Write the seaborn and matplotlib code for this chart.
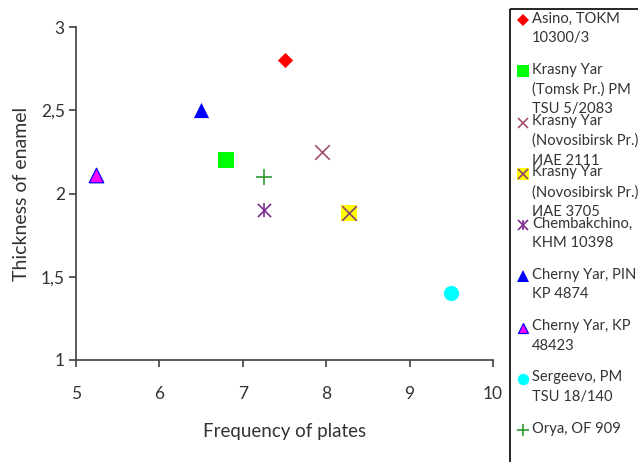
import matplotlib
matplotlib.use("Agg")
import matplotlib.pyplot as plt
import seaborn as sns
from matplotlib.patches import Rectangle

# ---- data ----
labels = [
    "Asino, TOKM\n10300/3",
    "Krasny Yar\n(Tomsk Pr.) PM\nTSU 5/2083",
    "Krasny Yar\n(Novosibirsk Pr.)\nИАЕ 2111",
    "Krasny Yar\n(Novosibirsk Pr.)\nИАЕ 3705",
    "Chembakchino,\nKHM 10398",
    "Cherny Yar, PIN\nKP 4874",
    "Cherny Yar, KP\n48423",
    "Sergeevo, PM\nTSU 18/140",
    "Orya, OF 909",
]
frequency = [7.5, 6.8, 7.95, 8.27, 7.25, 6.5, 5.24, 9.5, 7.25]
thickness = [2.8, 2.2, 2.25, 1.88, 1.9, 2.5, 2.11, 1.4, 2.1]
x_ticks = [5, 6, 7, 8, 9, 10]
y_ticks = [1, 1.5, 2, 2.5, 3]
y_tick_labels = ["1", "1,5", "2", "2,5", "3"]

# ---- styles: layers of (marker, size, face, edge, lw) ----
styles = [
    [("D", 60, "#FF0000", "#FF0000", 0)],
    [("s", 120, "#00FF00", "#00FF00", 0)],
    [("x", 110, "#A0506E", None, 1.2)],
    [("s", 120, "#FFFF00", "#FFFF00", 0), ("x", 110, "#8E4470", None, 1.2)],
    [("x", 90, "#7F2A8F", None, 1.2), ("|", 110, "#7F2A8F", None, 1.2)],
    [("^", 120, "#0000FF", "#0000FF", 0)],
    [("^", 110, "#FF00FF", "#0000FF", 0.9)],
    [("o", 120, "#00FFFF", "#00FFFF", 0)],
    [("+", 120, "#2E9A2E", None, 1.2)],
]

sns.set_style("white")
plt.rcParams["font.family"] = ["Lato", "DejaVu Sans"]
text_color = "#333333"
spine_color = "#404040"

fig = plt.figure(figsize=(6.38, 4.62), dpi=100)
ax = fig.add_axes([76 / 638, 1 - 360 / 462, (493 - 76) / 638, (360 - 27) / 462])

for fx, ty, layers in zip(frequency, thickness, styles):
    for m, s, fc, ec, lw in layers:
        kws = dict(marker=m, s=s, color=fc, linewidth=lw if lw else 0, ax=ax, legend=False, zorder=3)
        if ec is not None:
            kws["edgecolor"] = ec
        sns.scatterplot(x=[fx], y=[ty], **kws)

ax.set_xlim(5, 10)
ax.set_ylim(1, 3)
ax.set_xticks(x_ticks)
ax.set_xticklabels([str(t) for t in x_ticks])
ax.set_yticks(y_ticks)
ax.set_yticklabels(y_tick_labels)
for side in ["top", "right"]:
    ax.spines[side].set_visible(False)
for side in ["left", "bottom"]:
    ax.spines[side].set_color(spine_color)
    ax.spines[side].set_linewidth(1.2)
ax.tick_params(axis="both", direction="out", length=5, width=1.2, color=spine_color,
               labelsize=12.5, labelcolor=text_color)
ax.tick_params(axis="x", pad=14, bottom=True)
ax.tick_params(axis="y", pad=3, left=True)
ax.set_xlabel("Frequency of plates", fontsize=13.5, color=text_color, labelpad=15)
ax.set_ylabel("Thickness of enamel", fontsize=14, color=text_color, labelpad=8)

# ---- legend (manual, box on the right) ----
lx0 = 510 / 638
ltop = 1 - 8 / 462
lax = fig.add_axes([lx0, 0, 1 - lx0, ltop])
lax.set_xlim(0, 128)
lax.set_ylim(454, 0)
lax.axis("off")
lax.add_patch(Rectangle((0.5, 0.5), 200, 600, fill=False, edgecolor="#000000", linewidth=1.2,
                        clip_on=False))
for i, (lab, layers) in enumerate(zip(labels, styles)):
    yc = 12 + i * 51.25
    for m, s, fc, ec, lw in layers:
        ms = (s ** 0.5) * 0.75
        lax.plot([13], [yc], linestyle="none", marker=m, markersize=ms,
                 markerfacecolor=fc, markeredgecolor=ec if ec is not None else fc,
                 markeredgewidth=lw if lw else 0, color=fc, clip_on=False)
    lax.text(22, yc - 8.5, lab, fontsize=10.6, color=text_color, va="top", ha="left",
             linespacing=1.5, clip_on=False)

fig.savefig("out.png", dpi=100)
